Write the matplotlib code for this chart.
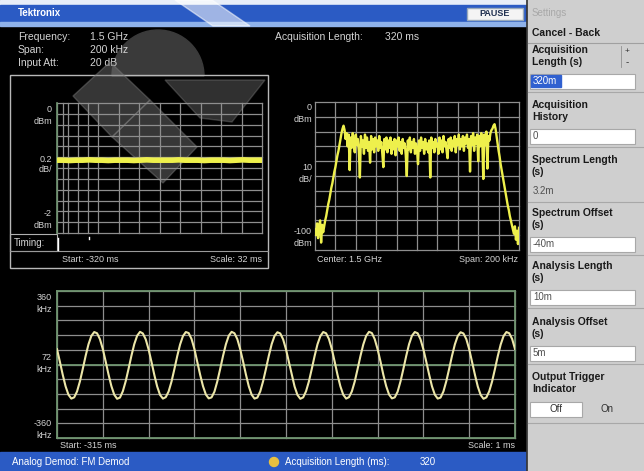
"""Tektronix RSA screen capture: FM demod view with amplitude, spectrum and
frequency-vs-time panels plus the Acquisition settings side panel."""
import matplotlib.pyplot as plt
import numpy as np
from matplotlib.patches import Rectangle, Polygon, Wedge

W, H = 644, 471
FONT = ['Liberation Sans', 'DejaVu Sans']
TXT = '#d4d4d4'
GRID = '#8e8e8e'
GREEN = '#6f9470'
YEL = '#eef04c'
BLUE = '#2b5bc4'
PANEL = '#cfcfcf'

# ---- data ---------------------------------------------------------------
# amplitude vs time (dBm), -320 ms .. 0 ms in 10 ms steps
amp_t = np.arange(-320, 1, 10)
amp_dbm = [-0.88, -0.88, -0.885, -0.88, -0.88, -0.875, -0.88, -0.88, -0.885,
           -0.88, -0.88, -0.88, -0.885, -0.88, -0.875, -0.88, -0.88, -0.88,
           -0.88, -0.875, -0.88, -0.88, -0.88, -0.885, -0.88, -0.88, -0.88,
           -0.885, -0.88, -0.875, -0.88, -0.88, -0.88]

# spectrum (dBm) at 1 kHz steps, -100 .. +100 kHz offset from 1.5 GHz
spec_khz = np.arange(-100, 101)
spec_dbm = [
    -86, -90, -82, -92, -84, -80, -95, -83, -88, -84,
    -80, -77, -73, -69, -66, -62, -58, -55, -51, -47,
    -44, -40, -36, -33, -29, -25, -21,
    -18, -16, -19, -25, -21,
    -30, -22, -46, -24, -31, -21, -28, -34, -22, -29,
    -25, -33, -51, -23, -30, -26, -35, -22, -31, -24,
    -33, -27, -41, -23, -32, -25, -34, -24, -30, -26,
    -33, -23, -31, -27, -35, -44, -25, -32, -24, -34,
    -26, -31, -24, -35, -27, -32, -25, -36, -26, -30,
    -24, -33, -27, -35, -25, -31, -28, -36, -50, -26,
    -32, -24, -34, -27, -31, -25, -35, -28, -32, -42,
    -26, -33, -24, -31, -27, -35, -25, -32, -28, -34,
    -26, -51, -24, -31, -27, -34, -25, -30, -28, -35,
    -24, -32, -26, -34, -23, -30, -27, -33, -38, -25,
    -31, -24, -33, -26, -30, -23, -34, -25, -29, -22,
    -32, -25, -30, -23, -33, -24, -28, -22, -31, -25,
    -47, -23, -29, -21, -33, -24, -28, -22, -40, -23,
    -30, -21, -27, -52, -22, -29, -20, -45, -23, -26,
    -21, -19, -18, -16, -15, -18, -23, -28, -33, -37,
    -42, -46, -50, -54, -58, -62, -66, -70, -73, -77,
    -80, -83, -86, -89, -84, -93, -87, -96, -85,
]

# FM demod output (kHz), -315 .. -305 ms in 1/16 ms steps
fm_t = -315 + np.arange(161) / 16
fm_khz = [
    75, 14, -50, -107, -148, -167, -161, -132, -83, -22, 42, 99, 140, 159, 153, 124,
    76, 15, -49, -106, -148, -168, -162, -131, -82, -21, 43, 100, 141, 160, 152, 123,
    74, 13, -51, -108, -149, -167, -160, -132, -84, -23, 41, 98, 139, 159, 154, 125,
    76, 14, -50, -106, -147, -166, -161, -133, -83, -22, 42, 99, 141, 160, 153, 124,
    75, 15, -49, -107, -148, -167, -162, -132, -82, -21, 43, 100, 140, 158, 152, 123,
    74, 13, -50, -108, -149, -168, -161, -131, -83, -22, 42, 99, 139, 159, 153, 125,
    76, 14, -51, -107, -148, -167, -160, -132, -84, -23, 41, 98, 140, 160, 154, 124,
    75, 15, -50, -106, -147, -166, -161, -133, -83, -22, 42, 100, 141, 159, 153, 123,
    74, 14, -49, -107, -148, -167, -162, -132, -82, -21, 43, 99, 140, 158, 152, 124,
    75, 13, -50, -108, -149, -168, -161, -131, -83, -22, 42, 98, 139, 159, 153, 125,
    76,
]

header_left = [("Frequency:", "1.5 GHz"), ("Span:", "200 kHz"), ("Input Att:", "20 dB")]

# side panel: (label lines, value, value is an edit box)
side_items = [
    (["Acquisition", "Length (s)"], "320m", True),
    (["Acquisition", "History"], "0", True),
    (["Spectrum Length", "(s)"], "3.2m", False),
    (["Spectrum Offset", "(s)"], "-40m", True),
    (["Analysis Length", "(s)"], "10m", True),
    (["Analysis Offset", "(s)"], "5m", True),
]


def box(x0, y0, x1, y1):
    return [x0 / W, 1 - y1 / H, (x1 - x0) / W, (y1 - y0) / H]


def txt(ax, x, y, s, **kw):
    kw.setdefault('color', TXT)
    kw.setdefault('fontsize', 7)
    kw.setdefault('va', 'center')
    ax.text(x, y, s, family=FONT, **kw)


def grid(ax, xs, ys, color=GRID):
    for x in xs:
        ax.axvline(x, color=color, lw=0.9, clip_on=False, zorder=1)
    for y in ys:
        ax.axhline(y, color=color, lw=0.9, clip_on=False, zorder=1)


def plain(ax):
    ax.set_facecolor('none')
    ax.set_xticks([]); ax.set_yticks([])
    for s in ax.spines.values():
        s.set_visible(False)


fig = plt.figure(figsize=(W / 100, H / 100), dpi=100)
fig.patch.set_facecolor('black')

bg = fig.add_axes([0, 0, 1, 1])
bg.set_xlim(0, W); bg.set_ylim(H, 0); bg.axis('off')

# title bar and status bar
bg.add_patch(Rectangle((0, 0), 527, 5, color='#e8eef8'))
bg.add_patch(Rectangle((0, 5), 527, 17, color=BLUE))
bg.add_patch(Rectangle((0, 22), 527, 4, color='#8fb2ea'))
txt(bg, 18, 13, "Tektronix", color='white', fontsize=7, weight='bold')
bg.add_patch(Rectangle((467, 8), 56, 12, facecolor='#f4f4f4', edgecolor='#9ab'))
txt(bg, 495, 14, "PAUSE", color='#203050', fontsize=6.5, weight='bold', ha='center')
bg.add_patch(Rectangle((0, 452), 527, 19, color=BLUE))
txt(bg, 12, 462, "Analog Demod: FM Demod", color='white', fontsize=7)
bg.add_patch(plt.Circle((274, 462), 4.5, color='#e8c040'))
txt(bg, 285, 462, "Acquisition Length (ms):", color='white', fontsize=7)
txt(bg, 420, 462, "320", color='white', fontsize=7)

# faint "RF" watermark shapes lying over the screen
bg.add_patch(Wedge((158, 76), 46, 180, 360, color='#3a3a3a', zorder=0.5))
bg.add_patch(Polygon([(175, 0), (212, 0), (250, 26), (213, 26)], color='white', alpha=0.55, zorder=3))
bg.add_patch(Polygon([(73, 96), (110, 62), (150, 100), (112, 137)], color='#7a7a7a', alpha=0.45, zorder=5))
bg.add_patch(Polygon([(112, 137), (150, 100), (197, 147), (163, 183)], color='#8a8a8a', alpha=0.4, zorder=5))
bg.add_patch(Polygon([(165, 80), (265, 80), (232, 122), (200, 118)], color='#8a8a8a', alpha=0.35, zorder=5))

# header readouts
for i, (k, v) in enumerate(header_left):
    txt(bg, 18, 37 + 13 * i, k, fontsize=7.5)
    txt(bg, 90, 37 + 13 * i, v, fontsize=7.5)
txt(bg, 275, 37, "Acquisition Length:", fontsize=7.5)
txt(bg, 385, 37, "320 ms", fontsize=7.5)

# amplitude panel frame
bg.add_patch(Rectangle((10, 75), 258, 193, fill=False, edgecolor='#b8b8b8', lw=1))
bg.plot([10, 268], [251, 251], color='#9a9a9a', lw=0.8)
bg.add_patch(Rectangle((10, 234), 47, 17, fill=False, edgecolor='#b0b0b0', lw=0.8))
txt(bg, 14, 243, "Timing:", fontsize=7)
bg.plot([58, 58], [238, 250], color='white', lw=1)
bg.plot([89, 89], [237, 239], color='white', lw=1)
txt(bg, 62, 260, "Start: -320 ms", fontsize=6.5)
txt(bg, 262, 260, "Scale: 32 ms", fontsize=6.5, ha='right')
for s, y in [("0", 109), ("dBm", 121), ("0.2", 160), ("dB/", 170), ("-2", 214), ("dBm", 225)]:
    txt(bg, 52, y, s, fontsize=6.5, ha='right')

# spectrum panel labels
for s, y in [("0", 108), ("dBm", 120), ("10", 168), ("dB/", 180), ("-100", 232), ("dBm", 243)]:
    txt(bg, 312, y, s, fontsize=6.5, ha='right')
txt(bg, 317, 259, "Center: 1.5 GHz", fontsize=6.5)
txt(bg, 518, 259, "Span: 200 kHz", fontsize=6.5, ha='right')

# FM panel labels
for s, y in [("360", 298), ("kHz", 310), ("72", 358), ("kHz", 370), ("-360", 423), ("kHz", 435)]:
    txt(bg, 52, y, s, fontsize=6.5, ha='right')
txt(bg, 60, 445, "Start: -315 ms", fontsize=6.5)
txt(bg, 515, 445, "Scale: 1 ms", fontsize=6.5, ha='right')

# side panel
bg.add_patch(Rectangle((527, 0), W - 527, H, color=PANEL, zorder=6))
bg.plot([527.5, 527.5], [0, H], color='#303030', lw=1.2, zorder=7)
txt(bg, 532, 13, "Settings", color='#a8a8a8', fontsize=7, zorder=8)
txt(bg, 532, 33, "Cancel - Back", color='#1a1a1a', fontsize=7.5, weight='bold', zorder=8)
bg.plot([528, W], [43, 43], color='#a0a0a0', lw=0.8, zorder=7)
txt(bg, 627, 52, "+", color='#303030', fontsize=6, ha='center', zorder=8)
txt(bg, 627, 62, "-", color='#303030', fontsize=7, ha='center', zorder=8)
bg.plot([621, 621], [46, 67], color='#909090', lw=0.6, zorder=7)

item_y = [50, 105, 160, 213, 266, 322]
for (lines, val, boxed), y in zip(side_items, item_y):
    for j, s in enumerate(lines):
        txt(bg, 532, y + 12 * j, s, color='#1a1a1a', fontsize=7.5, weight='bold', zorder=8)
    vy = y + 31
    if boxed:
        bg.add_patch(Rectangle((530, vy - 7.5), 105, 15, facecolor='white',
                               edgecolor='#a8a8a8', lw=0.8, zorder=7))
    if val == "320m":
        bg.add_patch(Rectangle((531, vy - 6), 30, 12, color='#3060d0', zorder=7.5))
        txt(bg, 533, vy, val, color='white', fontsize=7, zorder=8)
    else:
        txt(bg, 533, vy, val, color='#505050', fontsize=7, zorder=8)
    bg.plot([528, W], [vy + 11, vy + 11], color='#a8a8a8', lw=0.8, zorder=7)

txt(bg, 532, 377, "Output Trigger", color='#1a1a1a', fontsize=7.5, weight='bold', zorder=8)
txt(bg, 532, 389, "Indicator", color='#1a1a1a', fontsize=7.5, weight='bold', zorder=8)
bg.add_patch(Rectangle((530, 402), 52, 15, facecolor='white', edgecolor='#a8a8a8', lw=0.8, zorder=7))
txt(bg, 556, 409.5, "Off", color='#303030', fontsize=7, ha='center', zorder=8)
txt(bg, 607, 409.5, "On", color='#303030', fontsize=7, ha='center', zorder=8)
bg.plot([528, W], [423, 423], color='#a8a8a8', lw=0.8, zorder=7)

# ---- amplitude vs time ----
ax1 = fig.add_axes(box(57, 103, 262, 233))
plain(ax1)
ax1.set_xlim(-320, 0); ax1.set_ylim(-2, 0)
grid(ax1, list(np.linspace(-320, 0, 11)) + [-311, -303, -272], np.linspace(-2, 0, 13))
ax1.axvline(-320, color=GREEN, lw=1.2, clip_on=False, zorder=2)
ax1.plot(amp_t, amp_dbm, color=YEL, lw=4, zorder=3, solid_capstyle='butt')

# ---- spectrum ----
ax2 = fig.add_axes(box(315, 102, 519, 250))
plain(ax2)
ax2.set_xlim(-100, 100); ax2.set_ylim(-100, 0)
grid(ax2, np.linspace(-100, 100, 11), np.linspace(-100, 0, 11))
ax2.plot(spec_khz, spec_dbm, color=YEL, lw=1.7, zorder=3)

# ---- FM demod ----
ax3 = fig.add_axes(box(57, 291, 515, 438))
plain(ax3)
ax3.set_xlim(-315, -305); ax3.set_ylim(-360, 360)
grid(ax3, np.linspace(-315, -305, 11), np.linspace(-360, 360, 11))
for y in (-360, 0, 360):
    ax3.axhline(y, color=GREEN, lw=1.3, clip_on=False, zorder=2)
ax3.axvline(-315, color=GREEN, lw=1.3, clip_on=False, zorder=2)
ax3.axvline(-305, color=GREEN, lw=1.3, clip_on=False, zorder=2)
ax3.plot(fm_t, fm_khz, color='#ece6a8', lw=1.5, zorder=3)

fig.savefig('out.png', dpi=100, facecolor=fig.get_facecolor())
